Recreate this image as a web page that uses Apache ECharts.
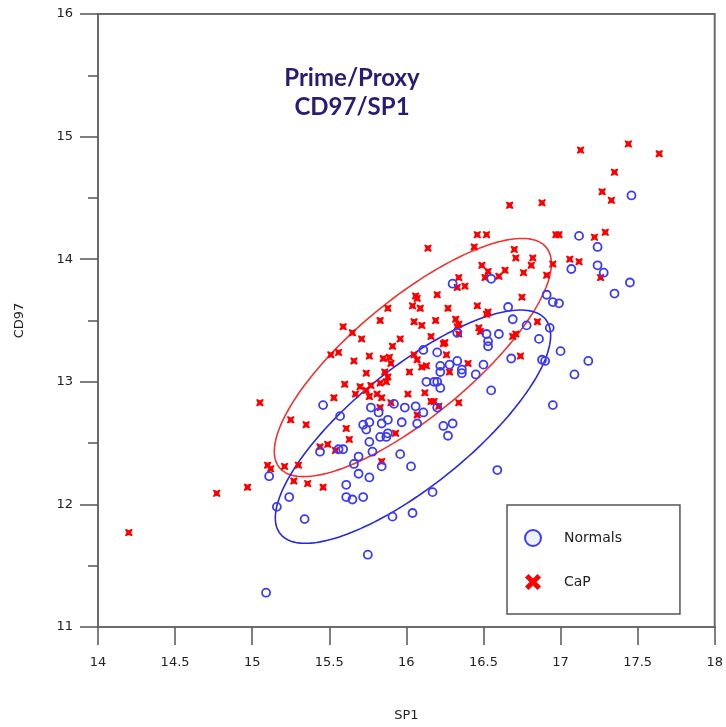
<!DOCTYPE html>
<html>
<head>
<meta charset="utf-8">
<script src="https://cdn.jsdelivr.net/npm/echarts@6/dist/echarts.min.js"></script>
<style>html,body{margin:0;padding:0;background:#fff}#c{width:726px;height:727px}</style>
</head>
<body>
<div id="c"></div>
<script>
// ---- data ----
const capSP1 = [15.88,15.59,15.83,15.65,15.71,15.96,15.51,15.56,15.91,15.66,15.76,15.85,15.89,15.90,15.74,15.86,15.88,15.60,15.70,15.77,
  15.83,15.87,15.74,15.67,15.81,15.76,15.84,15.53,15.90,15.83,15.05,15.25,15.35,15.61,15.63,15.93,15.44,15.49,15.54,15.10,
  15.12,15.21,15.30,15.27,15.36,15.46,14.97,15.84,16.46,16.52,16.97,16.99,16.14,16.44,16.70,16.71,16.82,16.81,16.49,16.64,
  16.53,16.76,16.91,16.95,16.60,16.51,16.34,16.33,16.38,16.20,16.06,16.07,16.04,16.09,16.27,16.46,16.53,16.52,16.75,16.19,
  16.05,16.10,16.32,16.34,16.33,16.34,16.16,16.25,16.24,16.48,16.47,16.85,16.71,16.69,16.26,16.05,16.07,16.10,16.13,16.40,
  16.74,16.02,16.28,16.01,16.12,16.16,16.18,16.34,16.21,16.07,17.13,17.44,17.64,17.35,17.27,17.33,16.88,17.22,17.29,17.06,
  17.12,17.26,16.67,14.77,14.20];
const capCD97 = [13.60,13.45,13.50,13.40,13.35,13.35,13.22,13.24,13.29,13.17,13.21,13.19,13.20,13.15,13.07,13.08,13.04,12.98,12.96,12.97,
  12.99,13.00,12.93,12.90,12.90,12.88,12.87,12.87,12.83,12.79,12.83,12.69,12.65,12.62,12.53,12.58,12.47,12.49,12.44,12.32,
  12.29,12.31,12.32,12.19,12.17,12.14,12.14,12.35,14.20,14.20,14.20,14.20,14.09,14.10,14.08,14.01,14.01,13.95,13.95,13.91,
  13.90,13.89,13.87,13.96,13.86,13.85,13.85,13.77,13.78,13.71,13.70,13.68,13.62,13.60,13.60,13.62,13.57,13.55,13.69,13.50,
  13.49,13.46,13.51,13.47,13.45,13.39,13.37,13.32,13.31,13.41,13.44,13.49,13.39,13.37,13.22,13.22,13.18,13.12,13.13,13.15,
  13.21,13.08,13.08,12.90,12.91,12.84,12.84,12.83,12.80,12.73,14.89,14.94,14.86,14.71,14.55,14.48,14.46,14.18,14.22,14.00,
  13.98,13.85,14.44,12.09,11.77];
const normSP1 = [15.46,15.57,15.77,15.82,15.92,15.99,15.88,15.84,15.76,15.72,15.74,15.97,15.83,15.88,15.87,15.76,15.78,15.96,15.59,15.56,
  15.44,15.69,15.66,15.84,15.69,15.76,15.11,15.61,15.61,15.65,15.72,15.24,15.16,15.34,15.91,15.75,15.09,16.30,16.55,16.91,
  16.95,16.99,16.66,16.69,16.78,16.93,16.33,16.52,16.60,16.53,16.53,16.86,16.11,16.20,17.00,16.68,16.88,16.90,16.50,16.33,
  16.28,16.22,16.36,16.22,16.36,16.45,16.13,16.18,16.20,16.22,16.55,16.06,16.11,16.20,16.07,16.24,16.30,16.27,16.95,16.03,
  16.59,16.17,17.46,17.12,17.24,17.07,17.24,17.28,17.45,17.35,17.18,17.09,16.04];
const normCD97 = [12.81,12.72,12.79,12.75,12.82,12.79,12.69,12.66,12.67,12.65,12.61,12.67,12.55,12.58,12.55,12.51,12.43,12.41,12.45,12.45,
  12.43,12.39,12.33,12.31,12.25,12.22,12.23,12.16,12.06,12.04,12.06,12.06,11.98,11.88,11.90,11.59,11.28,13.80,13.84,13.71,
  13.65,13.64,13.61,13.51,13.46,13.44,13.40,13.39,13.39,13.33,13.29,13.35,13.26,13.24,13.25,13.19,13.18,13.17,13.14,13.17,
  13.14,13.13,13.10,13.08,13.07,13.06,13.00,13.00,13.00,12.95,12.93,12.80,12.75,12.79,12.66,12.64,12.66,12.56,12.81,12.31,
  12.28,12.10,14.52,14.19,14.10,13.92,13.95,13.89,13.81,13.72,13.17,13.06,11.93];
// ellipse: centre and two conjugate semi-axis vectors, in data units
const capEllipse = [16.042, 13.198, 0.865, 0.899, 0.243, -0.368];
const normEllipse = [16.043, 12.634, 0.860, 0.876, 0.240, -0.371];
const xTicks = [14, 18, 0.5];
const yTicks = [11, 16, 1];
const seriesNames = ['Normals', 'CaP'];
const titleText = 'Prime/Proxy\nCD97/SP1';

function pairs(xs, ys) { return xs.map((x, i) => [x, ys[i]]); }
function ellipsePts(e) {
  const pts = [];
  const n = 180;
  for (let i = 0; i <= n; i++) {
    const t = 2 * Math.PI * i / n;
    pts.push([e[0] + e[2] * Math.cos(t) + e[4] * Math.sin(t), e[1] + e[3] * Math.cos(t) + e[5] * Math.sin(t)]);
  }
  return pts;
}

const BLUE = '#3c3cf8', RED = '#ff0000';
const MARK_PATH = 'path://M0,1.2 L1.2,0 L5,1.8 L8.8,0 L10,1.2 L8.2,5 L10,8.8 L8.8,10 L5,8.2 L1.2,10 L0,8.8 L1.8,5 Z';
const X_PATH = 'path://M0,2.2 L2.2,0 L5,2.8 L7.8,0 L10,2.2 L7.2,5 L10,7.8 L7.8,10 L5,7.2 L2.2,10 L0,7.8 L2.8,5 Z';
const AX = '#6c6c6c';
const FONT = 'DejaVu Sans';

const chart = echarts.init(document.getElementById('c'), null, { renderer: 'canvas' });
chart.setOption({
  animation: false,
  backgroundColor: '#fff',
  title: {
    text: titleText, left: 347, top: 59, textAlign: 'center',
    textStyle: { fontFamily: 'Lato', fontWeight: 'bold', fontSize: 24, lineHeight: 29, color: '#2b1b72' }
  },
  grid: { left: 98, top: 14, right: 8, bottom: 95, show: true, borderColor: AX, borderWidth: 2, backgroundColor: 'transparent' },
  legend: {
    orient: 'vertical', left: 507, top: 505,
    padding: [24, 58, 24, 17], itemGap: 27, itemWidth: 16, itemHeight: 16,
    borderColor: '#555', borderWidth: 1.5, backgroundColor: '#fff',
    textStyle: { fontFamily: FONT, fontSize: 14, color: '#222', padding: [0, 0, 0, 18] },
    data: [
      { name: seriesNames[0], icon: 'circle', itemStyle: { color: '#eef0ff', borderColor: BLUE, borderWidth: 2 } },
      { name: seriesNames[1], icon: X_PATH, itemStyle: { color: RED, borderWidth: 0 } }
    ]
  },
  xAxis: {
    type: 'value', min: xTicks[0], max: xTicks[1], interval: xTicks[2],
    name: 'SP1', nameLocation: 'middle', nameGap: 82,
    nameTextStyle: { fontFamily: FONT, fontSize: 13, color: '#222' },
    axisLine: { show: true, onZero: false, lineStyle: { color: AX, width: 2 } },
    axisTick: { show: true, inside: false, length: 18, lineStyle: { color: '#555', width: 1.5 } },
    axisLabel: { margin: 29, fontFamily: FONT, fontSize: 13, color: '#222' },
    splitLine: { show: false }
  },
  yAxis: {
    type: 'value', min: yTicks[0], max: yTicks[1], interval: yTicks[2],
    name: 'CD97', nameLocation: 'middle', nameGap: 72, nameRotate: 90,
    nameTextStyle: { fontFamily: FONT, fontSize: 13, color: '#222' },
    axisLine: { show: true, onZero: false, lineStyle: { color: AX, width: 2 } },
    axisTick: { show: true, inside: false, length: 18, lineStyle: { color: '#555', width: 1.5 } },
    minorTick: { show: true, splitNumber: 2, length: 10, lineStyle: { color: '#555', width: 1.5 } },
    axisLabel: { margin: 25, fontFamily: FONT, fontSize: 13, color: '#222' },
    splitLine: { show: false }
  },
  series: [
    { type: 'line', data: ellipsePts(capEllipse), showSymbol: false, smooth: false, silent: true,
      lineStyle: { color: '#f03434', width: 1.6 }, z: 3 },
    { type: 'line', data: ellipsePts(normEllipse), showSymbol: false, smooth: false, silent: true,
      lineStyle: { color: '#2828e0', width: 1.6 }, z: 3 },
    { name: seriesNames[1], type: 'scatter', data: pairs(capSP1, capCD97), symbol: MARK_PATH, symbolSize: 7.5,
      itemStyle: { color: RED, opacity: 1 }, z: 4 },
    { name: seriesNames[0], type: 'scatter', data: pairs(normSP1, normCD97), symbol: 'circle', symbolSize: 8,
      itemStyle: { color: 'rgba(255,255,255,0)', borderColor: BLUE, borderWidth: 1.8, opacity: 1 }, z: 5 }
  ]
});
</script>
</body>
</html>
